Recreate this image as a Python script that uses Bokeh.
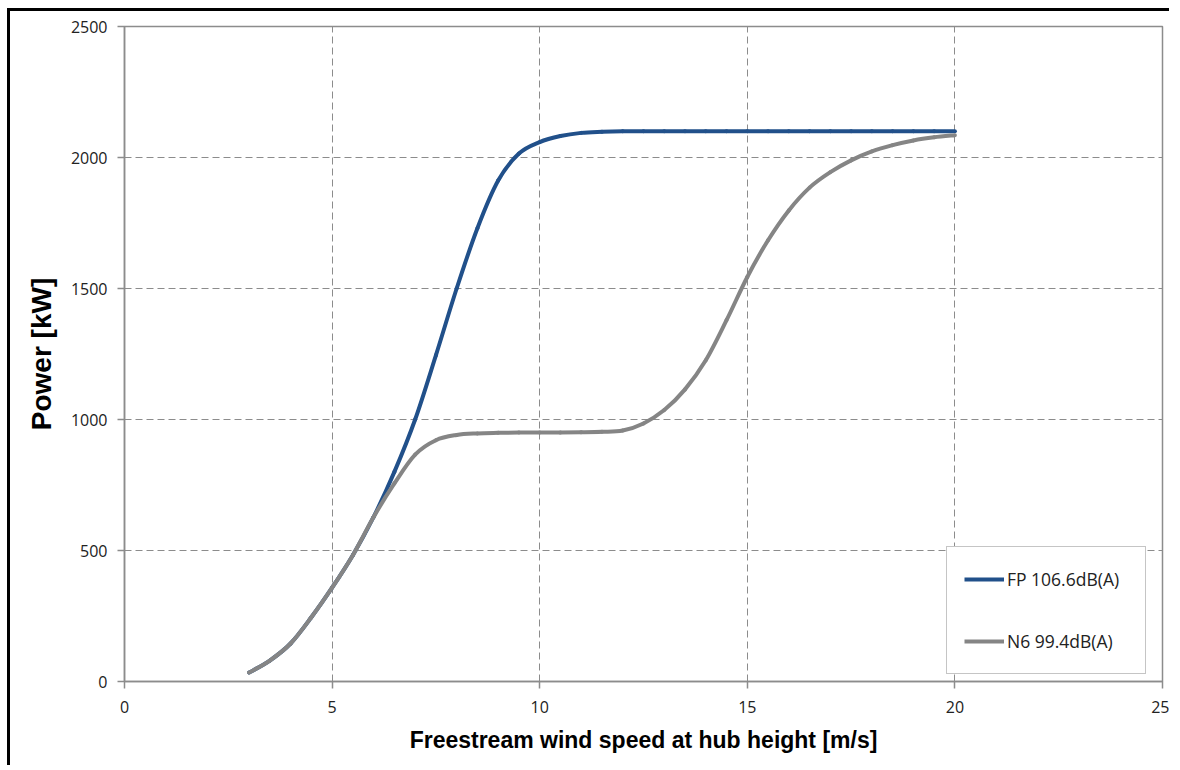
import numpy as np
from bokeh.plotting import figure
from bokeh.models import FixedTicker, Range1d, Legend, LegendItem
from bokeh.embed import file_html
from bokeh.resources import INLINE

# Wind speed [m/s]
wind_speed = [3, 3.5, 4, 4.5, 5, 5.5, 6, 6.5, 7, 7.5, 8, 8.5, 9, 9.5, 10, 10.5,
              11, 11.5, 12, 12.5, 13, 13.5, 14, 14.5, 15, 15.5, 16, 16.5, 17,
              17.5, 18, 18.5, 19, 19.5, 20]
# Power [kW]
fp_power = [34, 80, 145, 245, 358, 482, 628, 800, 1000, 1245, 1500, 1730, 1912,
            2015, 2059, 2082, 2094, 2098, 2100, 2100, 2100, 2100, 2100, 2100,
            2100, 2100, 2100, 2100, 2100, 2100, 2100, 2100, 2100, 2100, 2100]
n6_power = [34, 80, 145, 245, 358, 482, 628, 756, 866, 921, 941, 947, 949,
            950, 950, 950, 951, 953, 958, 985, 1036, 1115, 1226, 1379, 1544,
            1684, 1798, 1885, 1944, 1989, 2023, 2047, 2065, 2077, 2085]
series_names = ["FP 106.6dB(A)", "N6 99.4dB(A)"]
series_colors = ["#21508A", "#858585"]
x_ticks = [0, 5, 10, 15, 20, 25]
y_ticks = [0, 500, 1000, 1500, 2000, 2500]


def smooth_segments(xs, ys):
    """Catmull-Rom style Bezier control points (like a spreadsheet's smoothed line)."""
    x = np.asarray(xs, float)
    y = np.asarray(ys, float)
    xp = np.concatenate([[x[0]], x, [x[-1]]])
    yp = np.concatenate([[y[0]], y, [y[-1]]])
    n = len(x) - 1
    x0, y0 = x[:-1], y[:-1]
    x1, y1 = x[1:], y[1:]
    cx0 = x0 + (xp[2:n + 2] - xp[0:n]) / 6.0
    cy0 = y0 + (yp[2:n + 2] - yp[0:n]) / 6.0
    cx1 = x1 - (xp[3:n + 3] - xp[1:n + 1]) / 6.0
    cy1 = y1 - (yp[3:n + 3] - yp[1:n + 1]) / 6.0
    return dict(x0=x0, y0=y0, x1=x1, y1=y1, cx0=cx0, cy0=cy0, cx1=cx1, cy1=cy1)


p = figure(width=1162, height=757, output_backend="svg", toolbar_location=None,
           x_range=Range1d(0, 25), y_range=Range1d(0, 2500),
           min_border_left=114, min_border_right=10, min_border_top=15,
           min_border_bottom=87)
p.styles = {"border-left": "3px solid black", "border-top": "3px solid black",
            "margin-left": "7px", "margin-top": "8px"}

p.outline_line_color = "#8c8c8c"
p.outline_line_width = 1.5

for ax, ticks in ((p.xaxis[0], x_ticks), (p.yaxis[0], y_ticks)):
    ax.ticker = FixedTicker(ticks=ticks)
    ax.axis_line_color = "#8c8c8c"
    ax.axis_line_width = 1.5
    ax.major_tick_line_color = "#8c8c8c"
    ax.major_tick_line_width = 1.5
    ax.major_tick_in = 0
    ax.major_tick_out = 7
    ax.minor_tick_line_color = None
    ax.major_label_text_font = "Open Sans"
    ax.major_label_text_font_size = "16px"
    ax.major_label_text_color = "#222222"
    ax.axis_label_text_font = "Liberation Sans"
    ax.axis_label_text_font_style = "bold"
    ax.axis_label_text_color = "#000000"

p.xaxis.axis_label = "Freestream wind speed at hub height [m/s]"
p.xaxis.axis_label_text_font_size = "23px"
p.xaxis.major_label_standoff = 12
p.xaxis.axis_label_standoff = 11
p.yaxis.axis_label = "Power [kW]"
p.yaxis.axis_label_text_font_size = "28px"
p.yaxis.major_label_standoff = 10
p.yaxis.axis_label_standoff = 11

p.xgrid[0].ticker = FixedTicker(ticks=x_ticks)
p.ygrid[0].ticker = FixedTicker(ticks=y_ticks)
for g in (p.xgrid[0], p.ygrid[0]):
    g.grid_line_color = "#8c8c8c"
    g.grid_line_width = 1
    g.grid_line_dash = "7 4"

items = []
for name, ys, color in zip(series_names, (fp_power, n6_power), series_colors):
    p.bezier(source=smooth_segments(wind_speed, ys), x0="x0", y0="y0", x1="x1",
             y1="y1", cx0="cx0", cy0="cy0", cx1="cx1", cy1="cy1",
             line_color=color, line_width=4, line_cap="round")
    proxy = p.line(x=[np.nan, np.nan], y=[np.nan, np.nan], line_color=color,
                   line_width=4)
    items.append(LegendItem(label=name, renderers=[proxy]))

legend = Legend(items=items, location=(822, 7), orientation="vertical")
legend.border_line_color = "#8c8c8c"
legend.border_line_width = 1.5
legend.background_fill_color = "white"
legend.background_fill_alpha = 1
legend.padding = 17
legend.margin = 0
legend.spacing = 32
legend.glyph_width = 40
legend.glyph_height = 30
legend.label_height = 30
legend.label_width = 121
legend.label_standoff = 3
legend.label_text_font = "Open Sans"
legend.label_text_font_size = "17.5px"
legend.label_text_color = "#222222"
p.add_layout(legend, "center")

open("out.html", "w").write(file_html(p, INLINE))
